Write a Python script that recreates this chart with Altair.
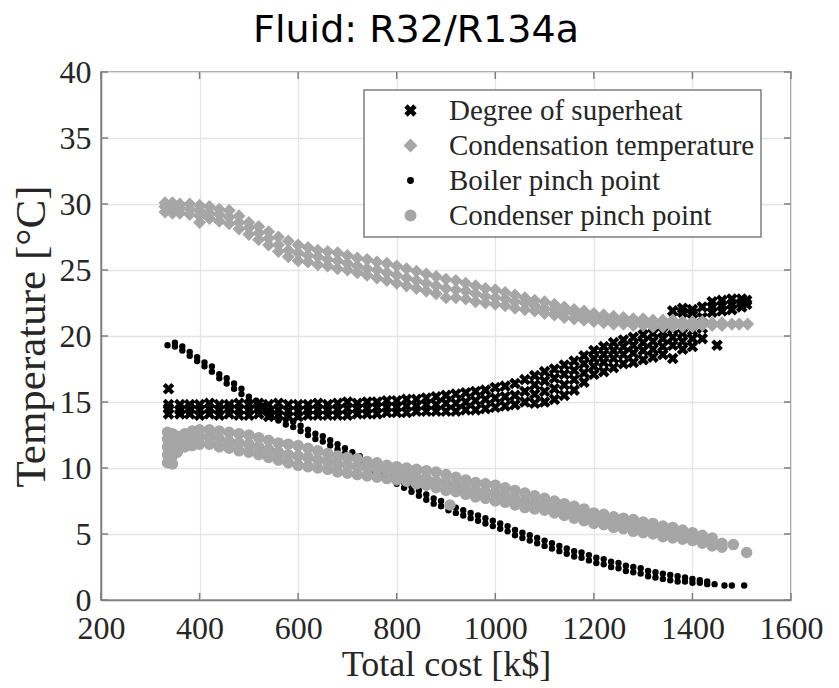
import altair as alt
import pandas as pd

series_names = ["Degree of superheat", "Condensation temperature",
                "Boiler pinch point", "Condenser pinch point"]
GRAY = "#a6a6a6"

# Degree of superheat (black crosses): cost columns and temperatures read at each
sh_x = [337, 360, 380, 400, 420, 440, 460, 480, 500, 520, 540, 560, 580, 600, 620, 640,
        660, 680, 700, 720, 740, 760, 780, 800, 820, 840, 860, 880, 900, 920, 940, 960,
        980, 1000, 1020, 1040, 1060, 1080, 1100, 1120, 1140, 1160, 1180, 1200, 1220, 1240,
        1260, 1280, 1300, 1320, 1340, 1360, 1380, 1400, 1420, 1440, 1450, 1460, 1480, 1500, 1510]
sh_y = [[14.1, 14.5, 14.8, 16.0], [14.1, 14.4, 14.8], [14.1, 14.5, 14.8], [14.0, 14.4, 14.8],
        [14.1, 14.5, 14.9], [14.0, 14.4, 14.8], [14.1, 14.5, 14.8], [14.0, 14.4, 14.9],
        [14.0, 14.4, 14.8], [14.1, 14.5, 14.9], [13.9, 14.3, 14.8], [14.0, 14.4, 14.9],
        [13.9, 14.3, 14.8], [13.9, 14.3, 14.8], [14.0, 14.4, 14.8], [14.0, 14.4, 14.9],
        [14.0, 14.4, 14.8], [14.0, 14.4, 14.9], [14.0, 14.5, 15.0], [14.1, 14.5, 14.9],
        [14.1, 14.5, 15.0], [14.1, 14.6, 15.0], [14.2, 14.6, 15.1], [14.2, 14.6, 15.1],
        [14.2, 14.7, 15.2], [14.3, 14.7, 15.2], [14.3, 14.8, 15.3], [14.3, 14.8, 15.4],
        [14.3, 14.9, 15.5], [14.3, 14.9, 15.6], [14.4, 15.0, 15.7], [14.4, 15.1, 15.8],
        [14.5, 15.2, 15.9], [14.6, 15.3, 16.1], [14.7, 15.4, 16.2], [14.8, 15.5, 16.4],
        [15.0, 15.8, 16.7], [14.9, 15.6, 16.3, 17.0], [15.0, 15.8, 16.6, 17.3],
        [15.2, 16.0, 16.8, 17.5], [15.5, 16.3, 17.1, 17.8], [15.9, 16.7, 17.4, 18.1],
        [16.5, 17.2, 17.9, 18.5], [17.1, 17.7, 18.3, 18.9], [17.3, 18.0, 18.6, 19.2],
        [17.6, 18.3, 18.9, 19.5], [17.9, 18.6, 19.2, 19.7], [18.0, 18.7, 19.3, 19.9],
        [18.2, 18.9, 19.5, 20.1], [18.4, 19.0, 19.6, 20.2], [18.6, 19.2, 19.8, 20.3],
        [18.3, 19.3, 19.9, 20.5, 21.9], [19.0, 19.6, 20.2, 21.8, 22.1],
        [19.2, 19.8, 20.4, 21.7, 22.0], [19.8, 20.6, 21.4, 22.2], [21.8, 22.2, 22.6],
        [19.3], [21.9, 22.3, 22.7], [22.0, 22.4, 22.8], [22.2, 22.5, 22.8], [22.4, 22.7]]

# Condensation temperature (grey diamonds)
ct_x = [330, 345, 360, 380, 400, 420, 440, 460, 480, 500, 520, 540, 560, 580, 600, 620,
        640, 660, 680, 700, 720, 740, 760, 780, 800, 820, 840, 860, 880, 900, 920, 940,
        960, 980, 1000, 1020, 1040, 1060, 1080, 1100, 1120, 1140, 1160, 1180, 1200, 1220,
        1240, 1260, 1280, 1300, 1320, 1340, 1360, 1380, 1400, 1420, 1440, 1460, 1480, 1495, 1512]
ct_y = [[29.4, 29.8, 30.1], [29.3, 29.7, 30.1], [29.3, 29.7, 30.0], [29.2, 29.6, 30.0],
        [28.6, 29.1, 29.5, 29.9], [28.9, 29.3, 29.8], [28.7, 29.2, 29.6], [28.5, 29.0, 29.5],
        [28.1, 28.6, 29.1], [27.7, 28.2, 28.6], [27.3, 27.8, 28.3], [26.9, 27.4, 27.9],
        [26.4, 26.9, 27.5], [26.0, 26.5, 27.2], [25.7, 26.3, 26.9], [25.6, 26.1, 26.7],
        [25.4, 26.0, 26.5], [25.3, 25.8, 26.4], [25.1, 25.7, 26.3], [25.0, 25.5, 26.1],
        [24.8, 25.3, 25.9], [24.6, 25.1, 25.8], [24.4, 25.0, 25.6], [24.2, 24.8, 25.5],
        [24.0, 24.6, 25.3], [23.8, 24.4, 25.1], [23.6, 24.2, 24.9], [23.4, 24.0, 24.7],
        [23.2, 23.8, 24.5], [22.9, 23.6, 24.3], [22.9, 23.5, 24.2], [22.8, 23.4, 24.0],
        [22.6, 23.2, 23.8], [22.5, 23.0, 23.6], [22.4, 22.9, 23.5], [22.3, 22.8, 23.3],
        [22.1, 22.6, 23.1], [22.0, 22.5, 22.9], [21.9, 22.3, 22.7], [21.7, 22.1, 22.6],
        [21.6, 22.0, 22.4], [21.4, 21.8, 22.2], [21.3, 21.7, 22.0], [21.2, 21.5, 21.9],
        [21.1, 21.4, 21.7], [21.0, 21.3, 21.6], [20.9, 21.2, 21.5], [20.9, 21.1, 21.4],
        [20.8, 21.1, 21.3], [20.8, 21.0, 21.3], [20.7, 21.0, 21.2], [20.7, 21.0, 21.2],
        [20.7, 20.9, 21.2], [20.7, 20.9, 21.1], [20.7, 20.9, 21.1], [20.8, 20.9, 21.1],
        [20.8, 21.0], [20.8, 21.0], [20.9], [20.9], [20.9]]

# Boiler pinch point (black dots)
bp_x = [335, 350, 365, 380, 395, 410, 425, 440, 455, 470, 485, 500, 515, 530, 545, 560,
        575, 590, 605, 620, 635, 650, 665, 680, 695, 710, 725, 740, 755, 770, 785, 800,
        815, 830, 845, 860, 875, 890, 905, 920, 935, 950, 965, 980, 995, 1010, 1025, 1040,
        1055, 1070, 1085, 1100, 1115, 1130, 1145, 1160, 1175, 1190, 1205, 1220, 1235, 1250,
        1265, 1280, 1295, 1310, 1325, 1340, 1355, 1370, 1385, 1400, 1415, 1430, 1445, 1465,
        1480, 1505]
bp_y = [[19.3], [19.2, 19.5], [18.9, 19.2], [18.5, 18.8], [18.1, 18.4], [17.7, 18.0],
        [17.3, 17.7], [16.8, 17.1], [16.4, 16.8], [16.0, 16.4], [15.6, 16.0], [15.1, 15.4],
        [14.7, 15.1], [14.3, 14.7], [13.9, 14.3], [13.6, 14.0], [13.3, 13.7], [13.1, 13.5],
        [12.8, 13.2], [12.5, 12.9], [12.2, 12.6], [12.0, 12.4], [11.7, 12.1], [11.4, 11.8],
        [11.1, 11.5], [10.8, 11.2], [10.5, 10.9], [10.2, 10.6], [9.8, 10.2], [9.5, 9.9],
        [9.2, 9.6], [8.8, 9.2], [8.5, 8.9], [8.2, 8.6], [7.9, 8.3], [7.6, 8.0], [7.3, 7.7],
        [7.1, 7.5], [6.8, 7.2], [6.6, 7.0], [6.4, 6.8], [6.2, 6.6], [6.0, 6.4], [5.8, 6.2],
        [5.6, 6.0], [5.4, 5.8], [5.2, 5.6], [4.9, 5.3], [4.7, 5.1], [4.5, 4.9], [4.3, 4.7],
        [4.1, 4.5], [3.9, 4.3], [3.7, 4.1], [3.5, 3.9], [3.3, 3.7], [3.2, 3.6], [3.0, 3.4],
        [2.8, 3.2], [2.7, 3.1], [2.5, 2.9], [2.4, 2.8], [2.2, 2.6], [2.1, 2.5], [2.0, 2.4],
        [1.8, 2.2], [1.7, 2.1], [1.6, 2.0], [1.5, 1.9], [1.4, 1.8], [1.4, 1.7], [1.3, 1.6],
        [1.3, 1.5], [1.2, 1.4], [1.2], [1.1], [1.1], [1.1]]

# Condenser pinch point (grey circles)
cp_x = [335, 345, 355, 370, 385, 400, 420, 440, 460, 480, 500, 520, 540, 560, 580, 600,
        620, 640, 660, 680, 700, 720, 740, 760, 780, 800, 820, 840, 860, 880, 900, 908,
        920, 940, 960, 980, 1000, 1020, 1040, 1060, 1080, 1100, 1120, 1140, 1160, 1180,
        1200, 1220, 1240, 1260, 1280, 1300, 1320, 1340, 1360, 1380, 1400, 1420, 1440, 1460,
        1483, 1510]
cp_y = [[10.4, 11.0, 11.6, 12.2, 12.7], [10.3, 10.9, 11.5, 12.1, 12.6], [11.2, 11.8, 12.4],
        [11.6, 12.1, 12.6], [11.7, 12.2, 12.8], [11.8, 12.3, 12.9], [11.8, 12.4, 12.9],
        [11.6, 12.2, 12.8], [11.5, 12.0, 12.7], [11.3, 11.9, 12.6], [11.2, 11.8, 12.5],
        [11.0, 11.6, 12.3], [10.8, 11.4, 12.1], [10.6, 11.2, 11.9], [10.4, 11.0, 11.8],
        [10.2, 10.9, 11.7], [10.1, 10.8, 11.5], [10.0, 10.6, 11.3], [9.9, 10.5, 11.1],
        [9.7, 10.3, 10.9], [9.6, 10.2, 10.8], [9.5, 10.1, 10.7], [9.4, 10.0, 10.5],
        [9.3, 9.9, 10.4], [9.2, 9.7, 10.2], [9.1, 9.6, 10.1], [9.0, 9.5, 10.0],
        [8.8, 9.3, 9.9], [8.7, 9.2, 9.8], [8.5, 9.0, 9.7], [8.3, 8.9, 9.5], [7.2],
        [8.2, 8.7, 9.3], [8.0, 8.5, 9.1], [7.8, 8.3, 8.9], [7.7, 8.2, 8.8], [7.5, 8.1, 8.7],
        [7.4, 7.9, 8.5], [7.2, 7.7, 8.3], [7.0, 7.5, 8.1], [6.9, 7.3, 7.9], [6.8, 7.2, 7.7],
        [6.6, 7.0, 7.5], [6.4, 6.8, 7.3], [6.2, 6.6, 7.1], [6.0, 6.4, 6.9], [5.8, 6.2, 6.6],
        [5.7, 6.1, 6.5], [5.5, 5.9, 6.3], [5.4, 5.8, 6.2], [5.2, 5.6, 6.1], [5.1, 5.5, 5.9],
        [5.0, 5.4, 5.8], [4.8, 5.2, 5.6], [4.7, 5.1, 5.5], [4.6, 5.0, 5.3], [4.5, 4.8, 5.1],
        [4.3, 4.6, 4.9], [4.1, 4.4, 4.7], [4.0, 4.3], [4.2], [3.6]]

x_ticks = [200, 400, 600, 800, 1000, 1200, 1400, 1600]
y_ticks = [0, 5, 10, 15, 20, 25, 30, 35, 40]

rows = []
for k, (name, xs, ys) in enumerate(zip(series_names, [sh_x, ct_x, bp_x, cp_x],
                                       [sh_y, ct_y, bp_y, cp_y])):
    for xv, yl in zip(xs, ys):
        for yv in yl:
            rows.append({"cost": xv, "temp": yv, "series": name, "ord": k})
df = pd.DataFrame(rows)

# a bold "x" (filled polygon) for the superheat markers
X_PATH = ("M-1,-0.6L-0.6,-1L0,-0.4L0.6,-1L1,-0.6L0.4,0L1,0.6L0.6,1"
          "L0,0.4L-0.6,1L-1,0.6L-0.4,0Z")

shape_scale = alt.Scale(domain=series_names, range=[X_PATH, "diamond", "circle", "circle"])
stroke_scale = alt.Scale(domain=series_names, range=["black", GRAY, "black", GRAY])
size_scale = alt.Scale(type="ordinal", domain=series_names, range=[90, 120, 24, 100])

x_enc = alt.X("cost:Q", scale=alt.Scale(domain=[200, 1600], nice=False, zero=False),
              axis=alt.Axis(values=x_ticks, format="d", labelOverlap=False, labelFlush=False,
                            title="Total cost [k$]", titleFontSize=36,
                            titlePadding=3, labelPadding=13))
y_enc = alt.Y("temp:Q", scale=alt.Scale(domain=[0, 40], nice=False),
              axis=alt.Axis(values=y_ticks, labelOverlap=False, labelFlush=False,
                            title="Temperature [°C]", titleFontSize=43,
                            titlePadding=6, labelPadding=10))

leg = alt.Legend(title=None, labelLimit=0, symbolOpacity=1, symbolStrokeWidth=2)

# invisible copy of the points that carries the legend (hollow symbols), drawn first
legend_layer = alt.Chart(df).mark_point(filled=False, opacity=0, strokeWidth=2).encode(
    x=x_enc,
    y=y_enc,
    shape=alt.Shape("series:N", scale=shape_scale, legend=leg),
    stroke=alt.Stroke("series:N", scale=stroke_scale, legend=leg),
    size=alt.Size("series:N", scale=size_scale, legend=leg),
)

# data layer: solid markers so that the dense clouds read as bands
points = alt.Chart(df).mark_point(filled=True, opacity=1, strokeWidth=1.5).encode(
    x="cost:Q",
    y="temp:Q",
    shape=alt.Shape("series:N", scale=shape_scale, legend=leg),
    stroke=alt.Stroke("series:N", scale=stroke_scale, legend=leg),
    fill=alt.Fill("series:N", scale=stroke_scale, legend=None),
    size=alt.Size("series:N", scale=size_scale, legend=leg),
    order=alt.Order("ord:Q"),
)

# inward tick marks on all four sides (MATLAB box style)
xt = pd.DataFrame({"tx": x_ticks})
yt = pd.DataFrame({"ty": y_ticks})
TICK = "#7f7f7f"
xb = alt.Chart(xt).mark_rule(color=TICK, strokeWidth=1.5).encode(
    x=alt.X("tx:Q"), y=alt.value(528), y2=alt.value(521))
xtp = alt.Chart(xt).mark_rule(color=TICK, strokeWidth=1.5).encode(
    x=alt.X("tx:Q"), y=alt.value(0), y2=alt.value(7))
yl_ = alt.Chart(yt).mark_rule(color=TICK, strokeWidth=1.5).encode(
    y=alt.Y("ty:Q"), x=alt.value(0), x2=alt.value(7))
yr_ = alt.Chart(yt).mark_rule(color=TICK, strokeWidth=1.5).encode(
    y=alt.Y("ty:Q"), x=alt.value(690), x2=alt.value(683))

chart = alt.layer(legend_layer, points, xb, xtp, yl_, yr_).properties(
    width=690, height=528,
    title=alt.Title("Fluid: R32/R134a", font="DejaVu Sans", fontSize=38,
                    fontWeight="normal", color="black", anchor="middle", dx=-30, offset=6),
    autosize=alt.AutoSizeParams(type="none"),
    padding={"left": 101, "top": 72, "right": 48, "bottom": 88},
).configure_view(
    stroke="#7f7f7f", strokeWidth=1.5
).configure_axis(
    grid=True, gridColor="#e4e4e4", gridWidth=1.3, domainColor="#7f7f7f", domainWidth=1.5,
    ticks=False, labelFont="Liberation Serif", labelFontSize=32, labelColor="#262626",
    titleFont="Liberation Serif", titleFontWeight="normal", titleColor="#262626",
).configure_legend(
    orient="none", legendX=263, legendY=18, fillColor="white", strokeColor="#7f7f7f",
    strokeWidth=1.5, padding=6, symbolOffset=26, labelOffset=24,
    labelFont="Liberation Serif", labelFontSize=29, labelColor="#262626",
    rowPadding=5, symbolStrokeWidth=2, cornerRadius=0,
)

chart.save("out.html", embed_options={"renderer": "svg", "actions": False})
